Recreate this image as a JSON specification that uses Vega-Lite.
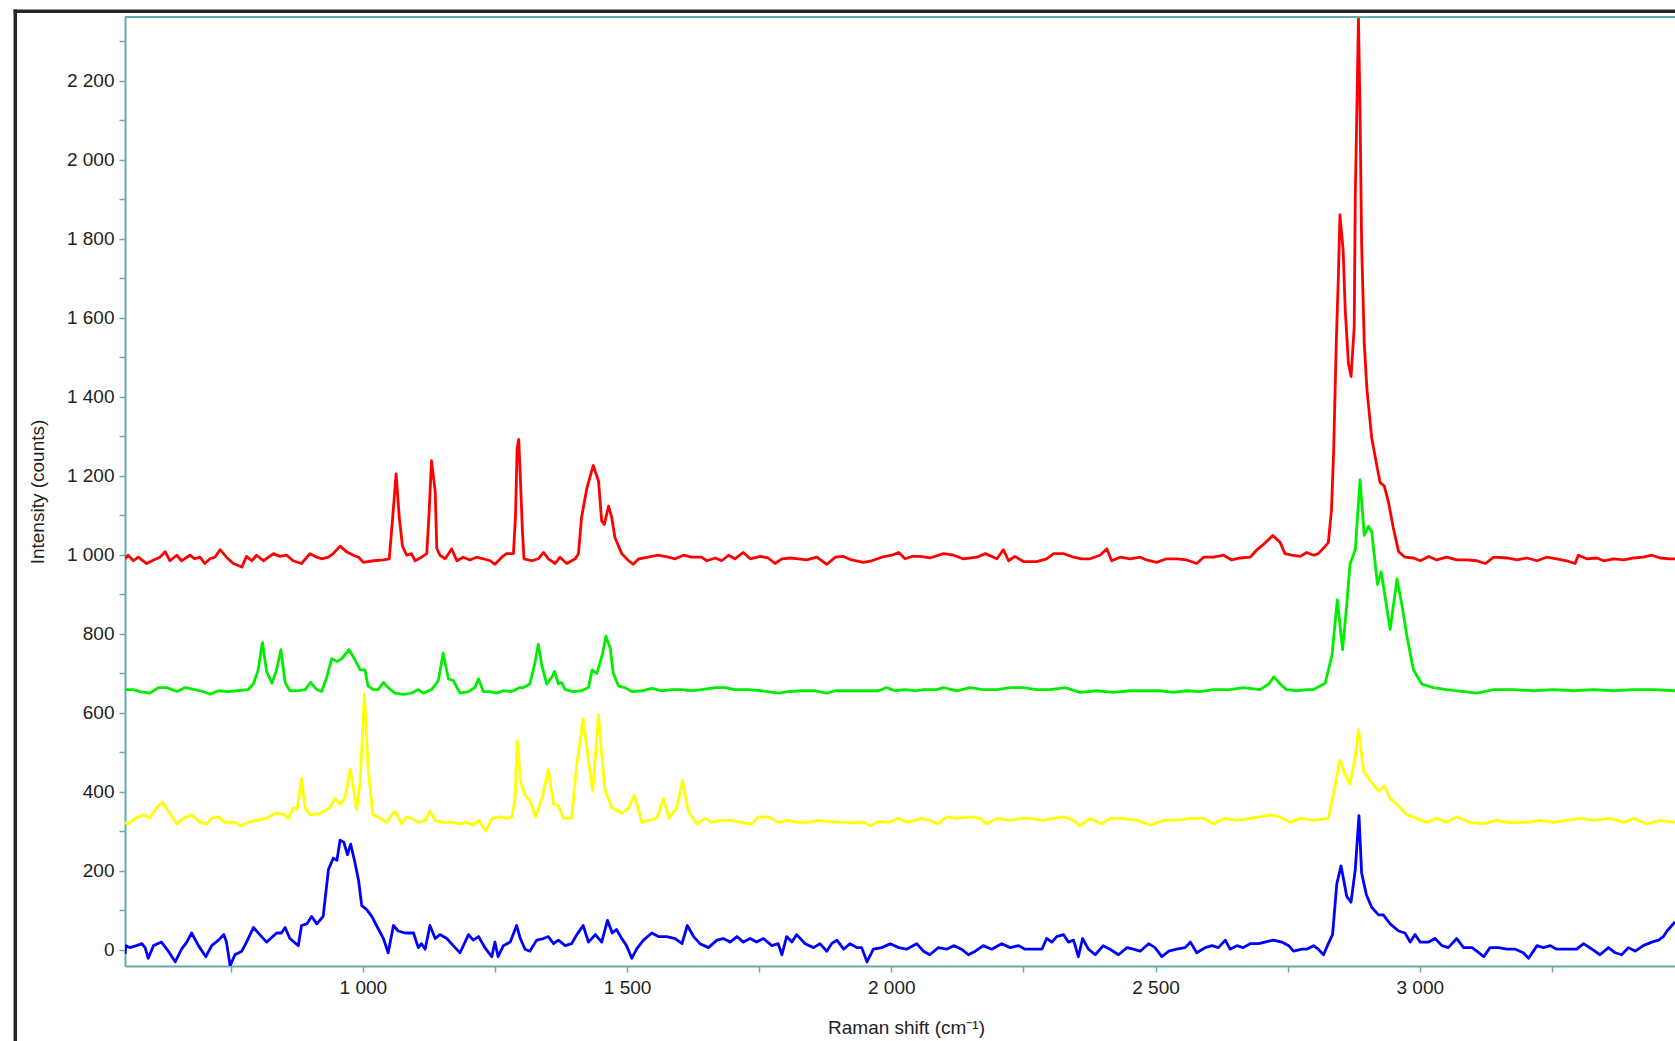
{
"$schema": "https://vega.github.io/schema/vega-lite/v6.json",
"width": 1550,
"height": 949,
"autosize": {"type": "none"},
"padding": {"left": 125, "top": 17, "right": 0, "bottom": 75},
"background": "white",
"config": {
 "view": {"stroke": null},
 "axis": {"domainColor": "#66aaaa", "domainWidth": 2, "tickColor": "#66aaaa", "tickWidth": 1.5, "tickSize": 6, "labelFont": "Liberation Sans", "labelFontSize": 19, "labelColor": "#222222", "titleFont": "Liberation Sans", "titleFontSize": 19, "titleFontWeight": "normal", "titleColor": "#222222", "grid": false, "labelFlush": false, "labelOverlap": false}
},
"datasets": {
"red": [
{"x":550,"y":990},{"x":556,"y":999},{"x":566,"y":985},{"x":575,"y":994},{"x":591,"y":978},{"x":604,"y":987},{"x":616,"y":994},{"x":626,"y":1008},{"x":635,"y":985},{"x":648,"y":999},{"x":657,"y":985},{"x":673,"y":999},{"x":682,"y":990},{"x":692,"y":994},{"x":701,"y":978},{"x":711,"y":990},{"x":720,"y":994},{"x":730,"y":1013},{"x":742,"y":994},{"x":755,"y":978},{"x":771,"y":969},{"x":780,"y":996},{"x":790,"y":985},{"x":799,"y":999},{"x":812,"y":985},{"x":831,"y":1003},{"x":843,"y":996},{"x":856,"y":999},{"x":868,"y":985},{"x":884,"y":978},{"x":900,"y":1003},{"x":913,"y":994},{"x":922,"y":990},{"x":935,"y":994},{"x":944,"y":1003},{"x":957,"y":1022},{"x":969,"y":1008},{"x":982,"y":999},{"x":992,"y":994},{"x":1001,"y":981},{"x":1020,"y":985},{"x":1039,"y":987},{"x":1050,"y":990},{"x":1056,"y":1086},{"x":1063,"y":1205},{"x":1069,"y":1095},{"x":1075,"y":1022},{"x":1083,"y":999},{"x":1092,"y":1003},{"x":1099,"y":985},{"x":1111,"y":994},{"x":1121,"y":1003},{"x":1125,"y":1095},{"x":1130,"y":1238},{"x":1137,"y":1160},{"x":1140,"y":1016},{"x":1146,"y":999},{"x":1156,"y":990},{"x":1168,"y":1015},{"x":1178,"y":985},{"x":1190,"y":994},{"x":1203,"y":987},{"x":1215,"y":994},{"x":1228,"y":990},{"x":1241,"y":985},{"x":1250,"y":976},{"x":1263,"y":994},{"x":1272,"y":1003},{"x":1285,"y":1003},{"x":1289,"y":1100},{"x":1292,"y":1270},{"x":1295,"y":1292},{"x":1298,"y":1200},{"x":1302,"y":1060},{"x":1305,"y":990},{"x":1320,"y":985},{"x":1332,"y":990},{"x":1342,"y":1006},{"x":1351,"y":990},{"x":1364,"y":978},{"x":1373,"y":994},{"x":1386,"y":978},{"x":1402,"y":990},{"x":1408,"y":1003},{"x":1414,"y":1095},{"x":1424,"y":1169},{"x":1436,"y":1226},{"x":1446,"y":1187},{"x":1452,"y":1086},{"x":1457,"y":1077},{"x":1465,"y":1123},{"x":1471,"y":1095},{"x":1477,"y":1044},{"x":1490,"y":1003},{"x":1503,"y":985},{"x":1512,"y":976},{"x":1522,"y":990},{"x":1540,"y":994},{"x":1559,"y":999},{"x":1578,"y":994},{"x":1591,"y":990},{"x":1607,"y":999},{"x":1622,"y":994},{"x":1641,"y":994},{"x":1651,"y":985},{"x":1667,"y":992},{"x":1679,"y":985},{"x":1692,"y":999},{"x":1704,"y":990},{"x":1720,"y":1006},{"x":1733,"y":990},{"x":1752,"y":996},{"x":1767,"y":992},{"x":1780,"y":978},{"x":1793,"y":990},{"x":1809,"y":992},{"x":1824,"y":990},{"x":1840,"y":987},{"x":1859,"y":994},{"x":1878,"y":976},{"x":1894,"y":994},{"x":1909,"y":996},{"x":1925,"y":987},{"x":1947,"y":981},{"x":1963,"y":985},{"x":1982,"y":994},{"x":2001,"y":999},{"x":2014,"y":1006},{"x":2026,"y":990},{"x":2040,"y":996},{"x":2055,"y":996},{"x":2073,"y":992},{"x":2099,"y":1003},{"x":2118,"y":999},{"x":2136,"y":990},{"x":2162,"y":994},{"x":2178,"y":1003},{"x":2200,"y":990},{"x":2212,"y":1013},{"x":2222,"y":985},{"x":2234,"y":996},{"x":2250,"y":983},{"x":2275,"y":983},{"x":2294,"y":990},{"x":2307,"y":1003},{"x":2326,"y":1003},{"x":2345,"y":994},{"x":2360,"y":990},{"x":2376,"y":990},{"x":2395,"y":999},{"x":2408,"y":1015},{"x":2417,"y":985},{"x":2433,"y":994},{"x":2452,"y":990},{"x":2471,"y":994},{"x":2483,"y":987},{"x":2502,"y":981},{"x":2521,"y":990},{"x":2540,"y":990},{"x":2559,"y":987},{"x":2578,"y":978},{"x":2591,"y":994},{"x":2610,"y":994},{"x":2629,"y":999},{"x":2644,"y":987},{"x":2660,"y":992},{"x":2679,"y":994},{"x":2692,"y":1013},{"x":2704,"y":1026},{"x":2722,"y":1049},{"x":2736,"y":1031},{"x":2745,"y":1003},{"x":2758,"y":999},{"x":2774,"y":996},{"x":2786,"y":1006},{"x":2799,"y":999},{"x":2808,"y":1003},{"x":2818,"y":1017},{"x":2827,"y":1031},{"x":2833,"y":1114},{"x":2837,"y":1260},{"x":2842,"y":1535},{"x":2846,"y":1704},{"x":2849,"y":1860},{"x":2855,"y":1771},{"x":2859,"y":1620},{"x":2865,"y":1485},{"x":2870,"y":1451},{"x":2876,"y":1577},{"x":2878,"y":1907},{"x":2881,"y":2126},{"x":2884,"y":2358},{"x":2887,"y":2126},{"x":2890,"y":1788},{"x":2895,"y":1535},{"x":2900,"y":1420},{"x":2909,"y":1297},{"x":2919,"y":1224},{"x":2925,"y":1183},{"x":2933,"y":1174},{"x":2941,"y":1132},{"x":2950,"y":1068},{"x":2960,"y":1008},{"x":2972,"y":994},{"x":2988,"y":992},{"x":3001,"y":985},{"x":3017,"y":996},{"x":3032,"y":987},{"x":3051,"y":994},{"x":3070,"y":987},{"x":3089,"y":987},{"x":3108,"y":985},{"x":3124,"y":978},{"x":3140,"y":994},{"x":3165,"y":992},{"x":3184,"y":987},{"x":3203,"y":992},{"x":3222,"y":985},{"x":3240,"y":994},{"x":3259,"y":990},{"x":3278,"y":985},{"x":3294,"y":978},{"x":3300,"y":999},{"x":3316,"y":990},{"x":3335,"y":992},{"x":3348,"y":985},{"x":3367,"y":990},{"x":3386,"y":987},{"x":3405,"y":992},{"x":3423,"y":994},{"x":3439,"y":999},{"x":3455,"y":992},{"x":3474,"y":990},{"x":3483,"y":990}
],
"green": [
{"x":550,"y":659},{"x":566,"y":659},{"x":578,"y":654},{"x":597,"y":650},{"x":613,"y":664},{"x":629,"y":664},{"x":648,"y":654},{"x":664,"y":664},{"x":682,"y":659},{"x":698,"y":654},{"x":711,"y":647},{"x":727,"y":656},{"x":746,"y":654},{"x":761,"y":656},{"x":783,"y":659},{"x":793,"y":673},{"x":802,"y":709},{"x":810,"y":778},{"x":818,"y":705},{"x":828,"y":675},{"x":837,"y":709},{"x":845,"y":760},{"x":853,"y":677},{"x":862,"y":656},{"x":875,"y":656},{"x":891,"y":659},{"x":901,"y":677},{"x":913,"y":659},{"x":922,"y":654},{"x":932,"y":691},{"x":941,"y":737},{"x":951,"y":730},{"x":960,"y":737},{"x":974,"y":760},{"x":985,"y":735},{"x":995,"y":709},{"x":1004,"y":709},{"x":1010,"y":668},{"x":1020,"y":659},{"x":1029,"y":659},{"x":1039,"y":677},{"x":1048,"y":664},{"x":1061,"y":650},{"x":1077,"y":647},{"x":1092,"y":650},{"x":1105,"y":659},{"x":1115,"y":650},{"x":1130,"y":659},{"x":1143,"y":682},{"x":1152,"y":751},{"x":1162,"y":686},{"x":1171,"y":682},{"x":1184,"y":650},{"x":1200,"y":654},{"x":1212,"y":664},{"x":1219,"y":686},{"x":1228,"y":654},{"x":1241,"y":654},{"x":1253,"y":650},{"x":1266,"y":656},{"x":1282,"y":654},{"x":1297,"y":664},{"x":1304,"y":664},{"x":1316,"y":673},{"x":1326,"y":728},{"x":1332,"y":774},{"x":1339,"y":719},{"x":1348,"y":673},{"x":1358,"y":691},{"x":1363,"y":705},{"x":1370,"y":673},{"x":1376,"y":677},{"x":1383,"y":659},{"x":1398,"y":654},{"x":1414,"y":656},{"x":1427,"y":664},{"x":1434,"y":709},{"x":1443,"y":700},{"x":1453,"y":746},{"x":1460,"y":794},{"x":1468,"y":765},{"x":1474,"y":700},{"x":1484,"y":668},{"x":1496,"y":664},{"x":1509,"y":654},{"x":1528,"y":656},{"x":1547,"y":662},{"x":1566,"y":656},{"x":1585,"y":659},{"x":1604,"y":659},{"x":1622,"y":656},{"x":1641,"y":659},{"x":1667,"y":664},{"x":1686,"y":664},{"x":1704,"y":659},{"x":1730,"y":659},{"x":1755,"y":656},{"x":1786,"y":650},{"x":1805,"y":654},{"x":1831,"y":656},{"x":1856,"y":656},{"x":1878,"y":650},{"x":1894,"y":656},{"x":1919,"y":656},{"x":1950,"y":656},{"x":1976,"y":656},{"x":1991,"y":664},{"x":2007,"y":656},{"x":2026,"y":659},{"x":2045,"y":656},{"x":2061,"y":659},{"x":2086,"y":659},{"x":2099,"y":664},{"x":2124,"y":656},{"x":2149,"y":664},{"x":2174,"y":659},{"x":2200,"y":659},{"x":2225,"y":664},{"x":2250,"y":664},{"x":2275,"y":659},{"x":2301,"y":659},{"x":2329,"y":664},{"x":2357,"y":652},{"x":2389,"y":656},{"x":2420,"y":652},{"x":2452,"y":656},{"x":2477,"y":656},{"x":2509,"y":656},{"x":2534,"y":652},{"x":2559,"y":656},{"x":2584,"y":654},{"x":2610,"y":659},{"x":2641,"y":659},{"x":2666,"y":664},{"x":2698,"y":659},{"x":2714,"y":673},{"x":2724,"y":691},{"x":2736,"y":673},{"x":2748,"y":659},{"x":2767,"y":656},{"x":2786,"y":659},{"x":2799,"y":659},{"x":2821,"y":675},{"x":2834,"y":746},{"x":2844,"y":886},{"x":2854,"y":760},{"x":2862,"y":875},{"x":2868,"y":976},{"x":2878,"y":1013},{"x":2887,"y":1190},{"x":2895,"y":1049},{"x":2903,"y":1072},{"x":2909,"y":1059},{"x":2920,"y":925},{"x":2927,"y":957},{"x":2935,"y":889},{"x":2944,"y":811},{"x":2957,"y":939},{"x":2966,"y":875},{"x":2976,"y":792},{"x":2988,"y":709},{"x":3004,"y":673},{"x":3026,"y":664},{"x":3051,"y":659},{"x":3083,"y":654},{"x":3108,"y":650},{"x":3140,"y":659},{"x":3177,"y":659},{"x":3215,"y":656},{"x":3253,"y":659},{"x":3291,"y":656},{"x":3329,"y":659},{"x":3367,"y":656},{"x":3405,"y":659},{"x":3442,"y":659},{"x":3483,"y":656}
],
"yellow": [
{"x":550,"y":323},{"x":556,"y":319},{"x":569,"y":333},{"x":585,"y":342},{"x":597,"y":335},{"x":610,"y":360},{"x":621,"y":374},{"x":632,"y":351},{"x":648,"y":319},{"x":660,"y":333},{"x":676,"y":342},{"x":692,"y":323},{"x":705,"y":319},{"x":714,"y":333},{"x":727,"y":337},{"x":739,"y":323},{"x":758,"y":323},{"x":768,"y":314},{"x":783,"y":323},{"x":799,"y":328},{"x":818,"y":333},{"x":834,"y":346},{"x":850,"y":344},{"x":859,"y":333},{"x":869,"y":360},{"x":876,"y":356},{"x":884,"y":434},{"x":891,"y":360},{"x":900,"y":342},{"x":919,"y":346},{"x":938,"y":360},{"x":947,"y":383},{"x":957,"y":369},{"x":966,"y":383},{"x":976,"y":457},{"x":982,"y":415},{"x":988,"y":356},{"x":995,"y":425},{"x":1003,"y":648},{"x":1010,"y":461},{"x":1019,"y":342},{"x":1029,"y":337},{"x":1045,"y":323},{"x":1055,"y":342},{"x":1061,"y":351},{"x":1074,"y":319},{"x":1083,"y":337},{"x":1092,"y":333},{"x":1105,"y":323},{"x":1118,"y":328},{"x":1127,"y":351},{"x":1137,"y":328},{"x":1152,"y":323},{"x":1168,"y":323},{"x":1184,"y":319},{"x":1197,"y":323},{"x":1209,"y":316},{"x":1219,"y":328},{"x":1233,"y":301},{"x":1244,"y":333},{"x":1260,"y":337},{"x":1272,"y":333},{"x":1282,"y":337},{"x":1288,"y":379},{"x":1292,"y":530},{"x":1299,"y":425},{"x":1307,"y":392},{"x":1316,"y":379},{"x":1327,"y":337},{"x":1339,"y":383},{"x":1351,"y":457},{"x":1361,"y":369},{"x":1370,"y":365},{"x":1380,"y":333},{"x":1395,"y":333},{"x":1405,"y":471},{"x":1417,"y":585},{"x":1427,"y":480},{"x":1435,"y":402},{"x":1441,"y":507},{"x":1446,"y":595},{"x":1452,"y":498},{"x":1458,"y":406},{"x":1471,"y":360},{"x":1490,"y":346},{"x":1503,"y":360},{"x":1514,"y":392},{"x":1528,"y":323},{"x":1540,"y":328},{"x":1556,"y":333},{"x":1569,"y":383},{"x":1579,"y":333},{"x":1594,"y":360},{"x":1605,"y":429},{"x":1616,"y":351},{"x":1632,"y":319},{"x":1648,"y":333},{"x":1660,"y":323},{"x":1679,"y":328},{"x":1698,"y":328},{"x":1717,"y":322},{"x":1736,"y":319},{"x":1749,"y":337},{"x":1768,"y":337},{"x":1786,"y":323},{"x":1805,"y":328},{"x":1824,"y":323},{"x":1843,"y":323},{"x":1862,"y":328},{"x":1881,"y":325},{"x":1906,"y":323},{"x":1932,"y":322},{"x":1950,"y":323},{"x":1960,"y":314},{"x":1976,"y":325},{"x":1995,"y":323},{"x":2014,"y":333},{"x":2029,"y":323},{"x":2045,"y":328},{"x":2055,"y":333},{"x":2073,"y":328},{"x":2089,"y":319},{"x":2105,"y":337},{"x":2124,"y":333},{"x":2152,"y":337},{"x":2168,"y":333},{"x":2181,"y":319},{"x":2200,"y":333},{"x":2225,"y":328},{"x":2244,"y":333},{"x":2263,"y":333},{"x":2288,"y":328},{"x":2307,"y":333},{"x":2326,"y":337},{"x":2345,"y":328},{"x":2357,"y":314},{"x":2376,"y":333},{"x":2398,"y":319},{"x":2414,"y":333},{"x":2439,"y":333},{"x":2465,"y":328},{"x":2490,"y":316},{"x":2515,"y":328},{"x":2540,"y":328},{"x":2565,"y":333},{"x":2591,"y":333},{"x":2610,"y":319},{"x":2629,"y":333},{"x":2654,"y":328},{"x":2679,"y":333},{"x":2698,"y":337},{"x":2717,"y":342},{"x":2736,"y":337},{"x":2755,"y":323},{"x":2774,"y":333},{"x":2799,"y":328},{"x":2827,"y":333},{"x":2837,"y":397},{"x":2849,"y":480},{"x":2859,"y":443},{"x":2868,"y":420},{"x":2878,"y":489},{"x":2884,"y":558},{"x":2894,"y":452},{"x":2906,"y":429},{"x":2922,"y":402},{"x":2933,"y":415},{"x":2944,"y":383},{"x":2957,"y":369},{"x":2976,"y":342},{"x":2994,"y":333},{"x":3013,"y":323},{"x":3032,"y":333},{"x":3051,"y":323},{"x":3070,"y":337},{"x":3095,"y":323},{"x":3121,"y":319},{"x":3146,"y":328},{"x":3171,"y":322},{"x":3203,"y":323},{"x":3228,"y":328},{"x":3253,"y":323},{"x":3278,"y":328},{"x":3304,"y":333},{"x":3329,"y":328},{"x":3360,"y":333},{"x":3386,"y":323},{"x":3405,"y":333},{"x":3430,"y":319},{"x":3455,"y":328},{"x":3483,"y":323}
],
"blue": [
{"x":550,"y":-10},{"x":552,"y":11},{"x":559,"y":6},{"x":572,"y":11},{"x":582,"y":16},{"x":588,"y":6},{"x":594,"y":-21},{"x":604,"y":11},{"x":619,"y":20},{"x":632,"y":-3},{"x":645,"y":-30},{"x":657,"y":2},{"x":667,"y":20},{"x":676,"y":43},{"x":689,"y":11},{"x":703,"y":-17},{"x":714,"y":11},{"x":727,"y":25},{"x":737,"y":39},{"x":742,"y":20},{"x":749,"y":-40},{"x":758,"y":-12},{"x":771,"y":-3},{"x":780,"y":20},{"x":793,"y":57},{"x":805,"y":39},{"x":818,"y":20},{"x":837,"y":43},{"x":846,"y":43},{"x":853,"y":57},{"x":862,"y":29},{"x":878,"y":11},{"x":884,"y":62},{"x":894,"y":66},{"x":903,"y":85},{"x":913,"y":66},{"x":925,"y":85},{"x":935,"y":204},{"x":944,"y":232},{"x":951,"y":227},{"x":957,"y":278},{"x":964,"y":273},{"x":971,"y":241},{"x":977,"y":268},{"x":985,"y":222},{"x":992,"y":176},{"x":998,"y":112},{"x":1007,"y":103},{"x":1017,"y":85},{"x":1026,"y":62},{"x":1039,"y":29},{"x":1048,"y":-7},{"x":1058,"y":62},{"x":1067,"y":48},{"x":1080,"y":43},{"x":1096,"y":43},{"x":1105,"y":6},{"x":1111,"y":16},{"x":1118,"y":2},{"x":1127,"y":62},{"x":1137,"y":29},{"x":1146,"y":39},{"x":1159,"y":29},{"x":1171,"y":11},{"x":1184,"y":-7},{"x":1200,"y":39},{"x":1209,"y":25},{"x":1219,"y":34},{"x":1231,"y":6},{"x":1244,"y":-17},{"x":1250,"y":20},{"x":1256,"y":-17},{"x":1266,"y":11},{"x":1279,"y":20},{"x":1291,"y":62},{"x":1298,"y":29},{"x":1307,"y":2},{"x":1316,"y":-3},{"x":1329,"y":25},{"x":1342,"y":29},{"x":1351,"y":34},{"x":1361,"y":16},{"x":1370,"y":25},{"x":1383,"y":11},{"x":1395,"y":16},{"x":1405,"y":39},{"x":1417,"y":62},{"x":1427,"y":20},{"x":1440,"y":39},{"x":1452,"y":20},{"x":1463,"y":75},{"x":1472,"y":43},{"x":1480,"y":52},{"x":1490,"y":29},{"x":1499,"y":11},{"x":1509,"y":-21},{"x":1518,"y":2},{"x":1531,"y":25},{"x":1547,"y":43},{"x":1559,"y":34},{"x":1575,"y":34},{"x":1591,"y":29},{"x":1604,"y":16},{"x":1614,"y":62},{"x":1626,"y":34},{"x":1638,"y":16},{"x":1654,"y":6},{"x":1670,"y":25},{"x":1682,"y":29},{"x":1695,"y":20},{"x":1708,"y":34},{"x":1720,"y":20},{"x":1733,"y":29},{"x":1745,"y":20},{"x":1758,"y":29},{"x":1774,"y":11},{"x":1786,"y":16},{"x":1793,"y":-12},{"x":1802,"y":34},{"x":1812,"y":20},{"x":1821,"y":39},{"x":1837,"y":16},{"x":1853,"y":6},{"x":1865,"y":16},{"x":1878,"y":-3},{"x":1887,"y":16},{"x":1897,"y":25},{"x":1910,"y":2},{"x":1922,"y":16},{"x":1935,"y":6},{"x":1944,"y":6},{"x":1954,"y":-30},{"x":1966,"y":2},{"x":1982,"y":6},{"x":1998,"y":16},{"x":2014,"y":6},{"x":2029,"y":2},{"x":2048,"y":16},{"x":2061,"y":-3},{"x":2073,"y":-12},{"x":2089,"y":6},{"x":2105,"y":2},{"x":2118,"y":11},{"x":2133,"y":2},{"x":2146,"y":-12},{"x":2159,"y":-3},{"x":2174,"y":11},{"x":2190,"y":2},{"x":2209,"y":16},{"x":2225,"y":6},{"x":2241,"y":11},{"x":2253,"y":2},{"x":2269,"y":2},{"x":2285,"y":2},{"x":2294,"y":29},{"x":2304,"y":20},{"x":2313,"y":34},{"x":2326,"y":39},{"x":2335,"y":20},{"x":2345,"y":25},{"x":2354,"y":-17},{"x":2362,"y":29},{"x":2373,"y":2},{"x":2386,"y":-12},{"x":2401,"y":11},{"x":2414,"y":2},{"x":2430,"y":-12},{"x":2446,"y":6},{"x":2458,"y":2},{"x":2471,"y":-3},{"x":2487,"y":16},{"x":2499,"y":6},{"x":2512,"y":-17},{"x":2525,"y":-3},{"x":2540,"y":2},{"x":2556,"y":6},{"x":2566,"y":20},{"x":2578,"y":-7},{"x":2594,"y":6},{"x":2607,"y":11},{"x":2619,"y":6},{"x":2632,"y":25},{"x":2641,"y":2},{"x":2654,"y":11},{"x":2666,"y":6},{"x":2679,"y":16},{"x":2695,"y":16},{"x":2707,"y":20},{"x":2723,"y":25},{"x":2739,"y":20},{"x":2752,"y":11},{"x":2761,"y":-3},{"x":2777,"y":2},{"x":2786,"y":2},{"x":2799,"y":11},{"x":2808,"y":2},{"x":2818,"y":-12},{"x":2827,"y":16},{"x":2835,"y":39},{"x":2843,"y":167},{"x":2851,"y":213},{"x":2862,"y":135},{"x":2870,"y":121},{"x":2878,"y":204},{"x":2885,"y":340},{"x":2890,"y":195},{"x":2899,"y":140},{"x":2909,"y":108},{"x":2922,"y":89},{"x":2931,"y":89},{"x":2944,"y":66},{"x":2960,"y":48},{"x":2972,"y":43},{"x":2982,"y":20},{"x":2991,"y":39},{"x":3001,"y":20},{"x":3017,"y":20},{"x":3029,"y":29},{"x":3042,"y":11},{"x":3054,"y":6},{"x":3070,"y":29},{"x":3083,"y":6},{"x":3099,"y":6},{"x":3108,"y":-3},{"x":3121,"y":-17},{"x":3133,"y":6},{"x":3149,"y":6},{"x":3165,"y":2},{"x":3181,"y":2},{"x":3196,"y":-7},{"x":3206,"y":-21},{"x":3222,"y":11},{"x":3234,"y":6},{"x":3247,"y":11},{"x":3259,"y":2},{"x":3278,"y":2},{"x":3297,"y":2},{"x":3310,"y":16},{"x":3326,"y":2},{"x":3341,"y":-12},{"x":3357,"y":6},{"x":3370,"y":-7},{"x":3382,"y":-12},{"x":3395,"y":6},{"x":3408,"y":-3},{"x":3423,"y":11},{"x":3439,"y":20},{"x":3452,"y":25},{"x":3461,"y":34},{"x":3468,"y":48},{"x":3477,"y":62},{"x":3483,"y":71}
]
},
"layer": [
 {
  "data": {"name": "red"},
  "mark": {"type": "line", "color": "#ff0000", "strokeWidth": 2.8, "clip": true, "strokeJoin": "round"},
  "encoding": {
   "x": {"field": "x", "type": "quantitative", "scale": {"domain": [550, 3483], "nice": false, "zero": false},
    "axis": {"title": "Raman shift (cm⁻¹)", "values": [750, 1000, 1250, 1500, 1750, 2000, 2250, 2500, 2750, 3000, 3250], "labelExpr": "datum.value % 500 == 0 ? replace(format(datum.value, ','), ',', ' ') : ''", "labelPadding": 6, "titleX": 781, "titleY": 61, "titleBaseline": "middle"}},
   "y": {"field": "y", "type": "quantitative", "scale": {"domain": [-40.5, 2361], "nice": false, "zero": false},
    "axis": {"title": "Intensity (counts)", "values": [0, 100, 200, 300, 400, 500, 600, 700, 800, 900, 1000, 1100, 1200, 1300, 1400, 1500, 1600, 1700, 1800, 1900, 2000, 2100, 2200, 2300], "labelExpr": "datum.value % 200 == 0 ? replace(format(datum.value, ','), ',', ' ') : ''", "labelPadding": 5, "titleX": -88, "titleY": 474.5, "titleBaseline": "middle"}}
  }
 },
 {
  "data": {"name": "green"},
  "mark": {"type": "line", "color": "#00ee00", "strokeWidth": 2.8, "clip": true, "strokeJoin": "round"},
  "encoding": {
   "x": {"field": "x", "type": "quantitative"},
   "y": {"field": "y", "type": "quantitative"}
  }
 },
 {
  "data": {"name": "yellow"},
  "mark": {"type": "line", "color": "#ffff00", "strokeWidth": 2.8, "clip": true, "strokeJoin": "round"},
  "encoding": {
   "x": {"field": "x", "type": "quantitative"},
   "y": {"field": "y", "type": "quantitative"}
  }
 },
 {
  "data": {"name": "blue"},
  "mark": {"type": "line", "color": "#0000ff", "strokeWidth": 2.8, "clip": true, "strokeJoin": "round"},
  "encoding": {
   "x": {"field": "x", "type": "quantitative"},
   "y": {"field": "y", "type": "quantitative"}
  }
 },
 {
  "data": {"values": [{"edge": "frame"}]},
  "mark": {"type": "rule", "color": "#262626", "strokeWidth": 3.5, "strokeCap": "square"},
  "encoding": {
   "x": {"datum": 342.4, "type": "quantitative"},
   "y": {"datum": 2375.6, "type": "quantitative"},
   "y2": {"datum": -250}
  }
 },
 {
  "data": {"values": [{"edge": "frame"}]},
  "mark": {"type": "rule", "color": "#262626", "strokeWidth": 3.5, "strokeCap": "square"},
  "encoding": {
   "x": {"datum": 342.4, "type": "quantitative"},
   "x2": {"datum": 3483},
   "y": {"datum": 2375.6, "type": "quantitative"}
  }
 },
 {
  "data": {"values": [{"edge": "top"}]},
  "mark": {"type": "rule", "color": "#66aaaa", "strokeWidth": 2},
  "encoding": {
   "x": {"datum": 550, "type": "quantitative"},
   "x2": {"datum": 3483},
   "y": {"datum": 2361, "type": "quantitative"}
  }
 }
]
}
